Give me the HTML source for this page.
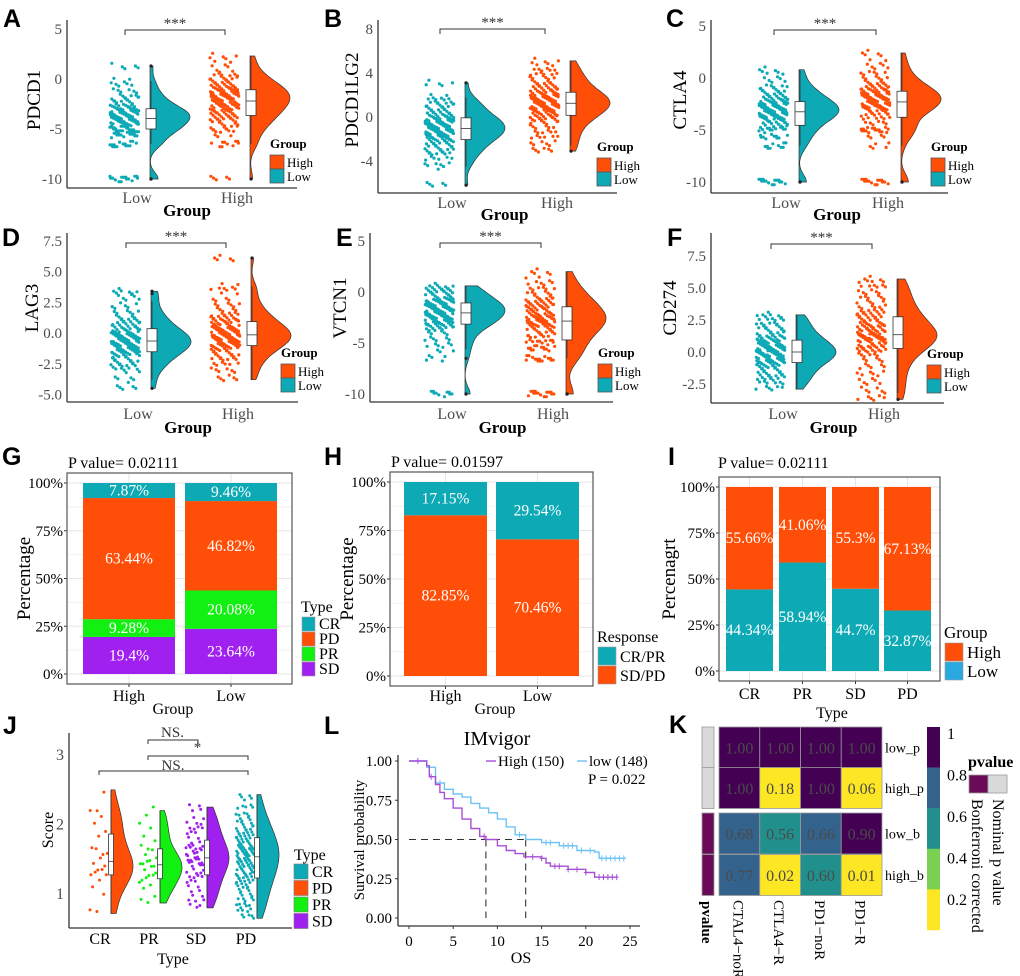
<!DOCTYPE html>
<html><head><meta charset="utf-8">
<style>
body{margin:0;background:#fff;}
svg{display:block;font-family:"Liberation Serif",serif;}
.let{font-family:"Liberation Sans",sans-serif;font-weight:bold;font-size:25px;fill:#000;}
</style></head>
<body>
<svg id="fig" width="1020" height="976" viewBox="0 0 1020 976" xmlns="http://www.w3.org/2000/svg">
<rect x="0" y="0" width="1020" height="976" fill="#fff"/>
</svg>
<script>
// ---------- DATA ----------
const rcGroups = ['Low','High'];
const pdcd1Low = [-10,-10,-10,-6.5,-6.5,-6.5,-5.6,-5.6,-5.6,-5,-5,-5,-5,-4.7,-4.5,-4.4,-4.3,-4.2,-4.1,-4,-3.9,-3.8,-3.7,-3.6,-3.5,-3.4,-3.3,-3.2,-3.1,-3,-2.9,-2.8,-2.5,-2.2,-2,-1.8,-1.4,-0.8,-0.2,1.3];
const pdcd1High = [-10,-6.5,-6.5,-5.5,-5,-4.8,-4.5,-4.2,-4,-3.8,-3.6,-3.4,-3.2,-3.1,-3,-2.8,-2.7,-2.5,-2.4,-2.3,-2.1,-2,-1.9,-1.8,-1.7,-1.5,-1.4,-1.3,-1.2,-1.1,-1,-0.8,-0.6,-0.4,-0.2,0,0.3,0.6,1.5,2.3];
const lg2Low = [-6.2,-4.5,-4,-3.5,-3.2,-3,-2.8,-2.6,-2.4,-2.2,-2,-1.9,-1.8,-1.7,-1.6,-1.5,-1.4,-1.3,-1.2,-1.1,-1,-0.9,-0.8,-0.7,-0.6,-0.5,-0.4,-0.3,-0.2,-0.1,0,0.2,0.4,0.6,0.8,1,1.2,1.5,1.8,3.1];
const lg2High = [-3.1,-2.6,-2,-1.6,-1.2,-0.8,-0.5,-0.3,-0.1,0,0.2,0.4,0.5,0.6,0.7,0.8,0.9,1,1.1,1.2,1.3,1.4,1.5,1.6,1.7,1.8,1.9,2,2.1,2.2,2.4,2.6,2.8,3,3.2,3.5,3.8,4.1,4.5,5.1];
const ctla4Low = [-10,-10,-10,-6.5,-6.5,-5.6,-5.6,-5,-5,-4.7,-4.5,-4.2,-4,-3.9,-3.8,-3.7,-3.6,-3.5,-3.4,-3.3,-3.2,-3.1,-3,-2.9,-2.8,-2.7,-2.6,-2.5,-2.4,-2.3,-2.2,-2,-1.8,-1.6,-1.4,-1.2,-1,-0.5,0.2,0.8];
const ctla4High = [-10,-10,-10,-6.5,-5.5,-5,-5,-5,-4.5,-4,-3.7,-3.4,-3.2,-3,-2.9,-2.8,-2.7,-2.6,-2.5,-2.4,-2.2,-2.1,-2,-1.9,-1.8,-1.7,-1.6,-1.5,-1.4,-1.3,-1.2,-1,-0.8,-0.6,-0.4,-0.1,0.3,0.8,1.5,2.4];
const lag3Low = [-4.5,-3.8,-3,-2.8,-2.5,-2.3,-2.1,-1.9,-1.7,-1.6,-1.5,-1.4,-1.3,-1.2,-1.1,-1,-0.9,-0.8,-0.7,-0.7,-0.6,-0.5,-0.4,-0.3,-0.2,-0.1,0,0.1,0.2,0.3,0.5,0.7,0.9,1.1,1.3,1.6,2,2.6,3.2,3.4];
const lag3High = [-3.8,-3.2,-2.7,-2.3,-2,-1.8,-1.6,-1.4,-1.2,-1.1,-1,-0.9,-0.8,-0.7,-0.6,-0.5,-0.4,-0.3,-0.2,-0.2,-0.1,0,0.1,0.2,0.3,0.4,0.5,0.6,0.8,0.9,1,1.2,1.4,1.6,1.9,2.2,2.6,3.4,3.8,6.1];
const vtcn1Low = [-10,-10,-6.5,-5.6,-5,-4.5,-4,-3.7,-3.5,-3.3,-3.1,-3,-2.9,-2.8,-2.6,-2.5,-2.4,-2.3,-2.2,-2.1,-2,-1.9,-1.8,-1.7,-1.6,-1.5,-1.4,-1.3,-1.2,-1.1,-1,-0.9,-0.8,-0.6,-0.4,-0.2,0,0.2,0.4,0.6];
const vtcn1High = [-10,-10,-10,-6.5,-6.5,-6.5,-5.6,-5.6,-5,-5,-4.6,-4.2,-4,-3.8,-3.6,-3.4,-3.2,-3.1,-3,-2.9,-2.8,-2.7,-2.6,-2.5,-2.3,-2.1,-2,-1.8,-1.6,-1.5,-1.3,-1.1,-0.9,-0.7,-0.5,-0.2,0.2,0.6,1.2,2];
const cd274Low = [-2.9,-2.5,-2.2,-2,-1.8,-1.6,-1.4,-1.2,-1,-0.9,-0.8,-0.7,-0.6,-0.5,-0.4,-0.3,-0.2,-0.1,-0.1,0,0,0.1,0.2,0.3,0.4,0.5,0.6,0.7,0.8,0.9,1,1.1,1.3,1.5,1.7,1.9,2.1,2.4,2.7,2.9];
const cd274High = [-3.7,-3.2,-2.6,-2,-1.5,-1,-0.6,-0.3,0,0.2,0.3,0.5,0.6,0.8,0.9,1,1.1,1.2,1.2,1.3,1.4,1.5,1.6,1.8,1.9,2.1,2.2,2.3,2.5,2.7,2.9,3.1,3.3,3.6,3.9,4.2,4.5,5,5.3,5.7];
const ticksA = [5,0,-5,-10];
const ticksB = [8,4,0,-4];
const ticksC = [5,0,-5,-10];
const ticksD = [7.5,5.0,2.5,0.0,-2.5,-5.0];
const ticksE = [5,0,-5,-10];
const ticksF = [7.5,5.0,2.5,0.0,-2.5];

const gGroups = ['High','Low'];
const gTypes = ['SD','PR','PD','CR'];
const gHigh = [19.4,9.28,63.44,7.87];
const gLow = [23.64,20.08,46.82,9.46];
const hGroups = ['High','Low'];
const hResp = ['SD/PD','CR/PR'];
const hHigh = [82.85,17.15];
const hLow = [70.46,29.54];
const iTypes = ['CR','PR','SD','PD'];
const iLow = [44.34,58.94,44.7,32.87];
const iHigh = [55.66,41.06,55.3,67.13];
const pctTicks = ['0%','25%','50%','75%','100%'];

const jTypes = ['CR','PR','SD','PD'];
const jCR = [0.72,0.8,1.03,1.12,1.2,1.26,1.28,1.3,1.33,1.38,1.42,1.44,1.5,1.55,1.6,1.62,1.7,1.85,1.9,2,2.08,2.15,2.25,2.5];
const jPR = [0.87,0.93,1.0,1.1,1.13,1.15,1.2,1.22,1.25,1.3,1.32,1.35,1.38,1.4,1.42,1.45,1.47,1.5,1.52,1.55,1.6,1.65,1.7,1.8,1.85,1.95,2.0,2.1,2.2];
const jSD = [0.8,0.86,0.95,1.0,1.05,1.1,1.15,1.2,1.25,1.3,1.33,1.36,1.4,1.42,1.45,1.47,1.5,1.52,1.55,1.57,1.6,1.62,1.65,1.7,1.72,1.75,1.8,1.85,1.9,1.95,2.0,2.05,2.1,2.2,2.25];
const jPD = [0.65,0.75,0.8,0.88,0.95,1.0,1.05,1.1,1.15,1.2,1.24,1.28,1.3,1.33,1.36,1.4,1.43,1.46,1.5,1.52,1.55,1.57,1.6,1.62,1.65,1.68,1.7,1.73,1.76,1.8,1.84,1.88,1.92,1.96,2.0,2.05,2.1,2.2,2.3,2.43];
const jTicks = [1,2,3];

const kmHighT = [0,2,2.3,3,3.5,4,5,6,7,8,8.7,10,11,12,13,15,15.5,16,18,20,21,23.5];
const kmHighS = [1,0.97,0.9,0.85,0.8,0.76,0.7,0.63,0.57,0.52,0.5,0.46,0.43,0.41,0.39,0.38,0.35,0.33,0.31,0.29,0.26,0.26];
const kmLowT = [0,2,3,4,5,6,7,8,9,10,11,12,13.2,15,17,19,21,21.5,24.5];
const kmLowS = [1,0.96,0.86,0.82,0.79,0.77,0.73,0.7,0.67,0.63,0.58,0.53,0.5,0.48,0.46,0.43,0.42,0.38,0.38];
const kmHighCens = [1,2.5,8.5,14,15,16.5,17,18,19,20,21.5,22,22.5,23,23.5];
const kmLowCens = [3.5,12.5,15.5,16,17.5,18,18.5,19.5,20.5,21.8,22.3,22.8,23.3,23.8,24.3];
const kmMedians = [8.7,13.2];
const kmXTicks = [0,5,10,15,20,25];
const kmYTicks = [0,0.25,0.5,0.75,1];

const kCols = ['CTAL4\u2212noR','CTLA4\u2212R','PD1\u2212noR','PD1\u2212R'];
const kRows = ['low_p','high_p','low_b','high_b'];
const kVals = [[1,1,1,1],[1,0.18,1,0.06],[0.68,0.56,0.66,0.90],[0.77,0.02,0.60,0.01]];
const kCbTicks = [1,0.8,0.6,0.4,0.2];

// ---------- HELPERS ----------
const NS='http://www.w3.org/2000/svg';
const svg=document.getElementById('fig');
function el(tag, attrs, parent){const e=document.createElementNS(NS,tag);for(const k in attrs)e.setAttribute(k,attrs[k]);(parent||svg).appendChild(e);return e;}
function tx(str, attrs, parent){const e=el('text',attrs,parent);e.textContent=str;return e;}
const TEAL='#0DAAB6', ORANGE='#FF4E08', GREEN='#12F012', PURPLE='#A020F0';
function quant(a,p){const s=[...a].sort((x,y)=>x-y);const h=(s.length-1)*p;const lo=Math.floor(h);return s[lo]+(s[Math.min(lo+1,s.length-1)]-s[lo])*(h-lo);}
function kde(vals){const n=vals.length;const m=vals.reduce((a,b)=>a+b,0)/n;const sd=Math.sqrt(vals.reduce((a,b)=>a+(b-m)*(b-m),0)/(n-1));const iqr=quant(vals,.75)-quant(vals,.25);let h=0.9*Math.min(sd,iqr>0?iqr/1.34:sd)*Math.pow(n,-0.2);if(!(h>0))h=0.1;const lo=Math.min(...vals),hi=Math.max(...vals);const out=[];for(let i=0;i<=80;i++){const v=lo+(hi-lo)*i/80;let d=0;for(const x of vals){const z=(v-x)/h;d+=Math.exp(-0.5*z*z);}out.push([v,d]);}return out;}
function letter(ch,x,y){const t=tx(ch,{x:x,y:y,class:'let'});

}

function cloud(g, vals, color, py, cx, o){
  vals.forEach((v,i)=>{for(let k=0;k<o.reps;k++){const f=((i*37+k*53+o.seed)%97)/97;const dy=(((i*13+k*29)%7)-3)*o.dy;
    const c=el('circle',{cx:(cx+o.pL+f*(o.pR-o.pL)).toFixed(1),cy:(py(v)+dy).toFixed(1),r:o.pr,fill:color},g);
    
    }});
  const dens=kde(vals);const dmax=Math.max(...dens.map(d=>d[1]));const base=cx+o.vb;
  let p='M'+base+','+py(dens[0][0]).toFixed(1);
  dens.forEach(d=>{p+=' L'+(base+d[1]/dmax*o.vw).toFixed(1)+','+py(d[0]).toFixed(1);});
  p+=' L'+base+','+py(dens[dens.length-1][0]).toFixed(1)+' Z';
  const vp=el('path',{d:p,fill:color,stroke:'#333','stroke-width':0.7},g);
  
  
  const q1=quant(vals,.25),q3=quant(vals,.75),md=quant(vals,.5),iq=q3-q1;
  const inr=vals.filter(v=>v>=q1-1.5*iq&&v<=q3+1.5*iq);const wl=Math.min(...inr),wh=Math.max(...inr);
  const bx=cx+o.bc, bw=o.bw;
  const wk=el('line',{x1:bx,x2:bx,y1:py(wl),y2:py(wh),stroke:'#333','stroke-width':0.8},g);
  
  
  const br=el('rect',{x:bx-bw/2,y:py(q3),width:bw,height:Math.max(1,py(q1)-py(q3)),fill:'#fff',stroke:'#333','stroke-width':0.8},g);
  
  
  const ml=el('line',{x1:bx-bw/2,x2:bx+bw/2,y1:py(md),y2:py(md),stroke:'#333','stroke-width':0.8},g);
  
  
  vals.filter(v=>v<q1-1.5*iq||v>q3+1.5*iq).forEach(v=>{const oc=el('circle',{cx:bx,cy:py(v),r:1.6,fill:'#222'},g);
    
    });
}

// ---------- RAINCLOUD PANELS A-F ----------
const rcPanels=[
 {L:'A',lx:3,ly:27,name:'PDCD1',data:[pdcd1Low,pdcd1High],ticks:ticksA,ax:67,top:20,bot:188,z:79,ppu:10,cx:[125,225],leg:[270,148],yl:[34,100],tickY:203,grpY:216,brY:30},
 {L:'B',lx:324,ly:27,name:'PDCD1LG2',data:[lg2Low,lg2High],ticks:ticksB,ax:378,top:20,bot:193,z:117,ppu:11,cx:[440,545],leg:[597,151],yl:[352,100],tickY:208,grpY:220,brY:29},
 {L:'C',lx:666,ly:27,name:'CTLA4',data:[ctla4Low,ctla4High],ticks:ticksC,ax:711,top:20,bot:193,z:78,ppu:10.4,cx:[774,876],leg:[931,151],yl:[680,100],tickY:208,grpY:220,brY:30},
 {L:'D',lx:2,ly:246,name:'LAG3',data:[lag3Low,lag3High],ticks:ticksD,ax:67,top:233,bot:402,z:333,ppu:12.3,cx:[126,226],leg:[281,357],yl:[32,308],tickY:419,grpY:433,brY:243},
 {L:'E',lx:336,ly:246,name:'VTCN1',data:[vtcn1Low,vtcn1High],ticks:ticksE,ax:370,top:233,bot:402,z:292,ppu:10.2,cx:[440,541],leg:[598,357],yl:[340,308],tickY:419,grpY:433,brY:243},
 {L:'F',lx:667,ly:246,name:'CD274',data:[cd274Low,cd274High],ticks:ticksF,ax:711,top:233,bot:403,z:352,ppu:12.8,cx:[771,872],leg:[927,358],yl:[670,308],tickY:419,grpY:433,brY:244}
];
rcPanels.forEach((P,pi)=>{
  const g=el('g',{});
  
  
  letter(P.L,P.lx,P.ly);
  const py=v=>P.z-v*P.ppu;
  const right=P.cx[1]+72;
  const ya=el('line',{x1:P.ax,x2:P.ax,y1:P.top,y2:P.bot,stroke:'#333','stroke-width':1.3},g);
  
  
  const xa=el('line',{x1:P.ax,x2:right,y1:P.bot,y2:P.bot,stroke:'#333','stroke-width':1.3},g);
  
  
  P.ticks.forEach(t=>{
    const s=(P.ticks.some(v=>v%1!==0))?t.toFixed(1):String(t);
    const tl=tx(s,{x:P.ax-5,y:py(t)+5,'text-anchor':'end','font-size':15,fill:'#4d4d4d'},g);
    
    
  });
  const yt=tx(P.name,{x:0,y:0,transform:`translate(${P.yl[0]+6},${P.yl[1]}) rotate(-90)`,'text-anchor':'middle','font-size':19,fill:'#000'},g);
  
  
  rcGroups.forEach((gn,gi)=>{
    const xl=tx(gn,{x:P.cx[gi]+12,y:P.tickY,'text-anchor':'middle','font-size':16,fill:'#4d4d4d'},g);
    
    
    cloud(g,P.data[gi],gi===0?TEAL:ORANGE,py,P.cx[gi],{reps:5,seed:pi*7+gi*3,pL:-15,pR:14,dy:0.9,pr:1.6,vb:25,vw:40,bc:26,bw:10});
  });
  const gt=tx('Group',{x:(P.cx[0]+P.cx[1])/2+12,y:P.grpY,'text-anchor':'middle','font-size':17,'font-weight':'bold',fill:'#000'},g);
  
  
  const bk=el('path',{d:`M${P.cx[0]},${P.brY+5} L${P.cx[0]},${P.brY} L${P.cx[1]},${P.brY} L${P.cx[1]},${P.brY+5}`,fill:'none',stroke:'#333','stroke-width':1},g);
  
  
  const st=tx('***',{x:(P.cx[0]+P.cx[1])/2,y:P.brY-2,'text-anchor':'middle','font-size':15,fill:'#333'},g);
  
  
  const lg=el('g',{},g);
  
  
  const lt=tx('Group',{x:P.leg[0],y:P.leg[1],'font-size':13,'font-weight':'bold'},lg);
  
  
  ['High','Low'].forEach((n,i)=>{
    const r=el('rect',{x:P.leg[0],y:P.leg[1]+7+i*14,width:14,height:14,fill:i?TEAL:ORANGE,stroke:'#555','stroke-width':0.8},lg);
    
    
    const t=tx(n,{x:P.leg[0]+17,y:P.leg[1]+19+i*14,'font-size':13},lg);
    
    
  });
});

// ---------- STACKED BAR PANELS G,H,I ----------
function barPanel(B){
  const g=el('g',{});
  
  
  const py=v=>B.y0-(B.y0-B.y100)*v/100;
  const bg=el('rect',{x:B.px0,y:B.py0,width:B.px1-B.px0,height:B.py1-B.py0,fill:'#fff'},g);
  
  
  for(let v=12.5;v<100;v+=25){const l=el('line',{x1:B.px0,x2:B.px1,y1:py(v),y2:py(v),stroke:'#f2f2f2','stroke-width':1},g);
    
    }
  pctTicks.forEach((t,i)=>{const v=i*25;
    const l=el('line',{x1:B.px0,x2:B.px1,y1:py(v),y2:py(v),stroke:'#e6e6e6','stroke-width':1.1},g);
    
    
    const tk=el('line',{x1:B.px0-3,x2:B.px0,y1:py(v),y2:py(v),stroke:'#333'},g);
    
    
    const tl=tx(t,{x:B.px0-4,y:py(v)+5,'text-anchor':'end','font-size':15},g);
    
    });
  B.cats.forEach((c,ci)=>{
    const cx=B.centers[ci];
    const vl=el('line',{x1:cx,x2:cx,y1:B.py0,y2:B.py1,stroke:'#e6e6e6','stroke-width':1.1},g);
    
    
    let cum=0;
    B.series.forEach((s,si)=>{const v=s.vals[ci];
      const r=el('rect',{x:cx-B.bw/2,y:py(cum+v),width:B.bw,height:py(cum)-py(cum+v),fill:s.color},g);
      
      
      const lab=tx(v+'%',{x:cx,y:py(cum+v/2)+5,'text-anchor':'middle','font-size':15.5,fill:'#fff'},g);
      
      
      cum+=v;});
    const xl=tx(c,{x:cx,y:B.xlabY,'text-anchor':'middle','font-size':16},g);
    
    
    const xt=el('line',{x1:cx,x2:cx,y1:B.py1,y2:B.py1+3,stroke:'#333'},g);
    
    
  });
  const fr=el('rect',{x:B.px0,y:B.py0,width:B.px1-B.px0,height:B.py1-B.py0,fill:'none',stroke:'#555','stroke-width':1.2},g);
  
  
  const pv=tx(B.ptxt,{x:B.ptx,y:B.pty,'font-size':16},g);
  
  
  const xtt=tx(B.xtitle,{x:B.xtx,y:B.xty,'text-anchor':'middle','font-size':16},g);
  
  
  const ytt=tx(B.ytitle,{x:0,y:0,transform:`translate(${B.ytx},${(B.py0+B.py1)/2}) rotate(-90)`,'text-anchor':'middle','font-size':19},g);
  
  
  const lt=tx(B.legTitle,{x:B.lgx,y:B.lgy,'font-size':B.lfs},g);
  
  
  B.legend.forEach((e,i)=>{
    const r=el('rect',{x:B.lgx+1,y:B.lgy+5+i*B.lh,width:B.lw,height:B.lh-1,fill:e[1],stroke:'#999','stroke-width':0.6},g);
    
    
    const t=tx(e[0],{x:B.lgx+B.lw+5,y:B.lgy+5+i*B.lh+B.lh*0.8,'font-size':B.lfs},g);
    
    
  });
}
letter('G',2,465);
barPanel({name:'panel-g-stacked-bar',px0:67,px1:292,py0:473,py1:684,y0:674,y100:483,cats:gGroups,centers:[129,231],bw:92,
  series:[{key:'SD',color:PURPLE,vals:[gHigh[0],gLow[0]]},{key:'PR',color:GREEN,vals:[gHigh[1],gLow[1]]},{key:'PD',color:ORANGE,vals:[gHigh[2],gLow[2]]},{key:'CR',color:TEAL,vals:[gHigh[3],gLow[3]]}],
  xlabY:701,ptxt:'P value= 0.02111',ptx:68,pty:468,xtitle:'Group',xtx:173,xty:714,ytitle:'Percentage',ytx:30,
  legTitle:'Type',lgx:301,lgy:612,lw:13,lh:15,lfs:16,legend:[['CR',TEAL],['PD',ORANGE],['PR',GREEN],['SD',PURPLE]]});
letter('H',324,465);
barPanel({name:'panel-h-stacked-bar',px0:390,px1:593,py0:472,py1:686,y0:676,y100:482,cats:hGroups,centers:[445.5,537.5],bw:83,
  series:[{key:'SD/PD',color:ORANGE,vals:[hHigh[0],hLow[0]]},{key:'CR/PR',color:TEAL,vals:[hHigh[1],hLow[1]]}],
  xlabY:701,ptxt:'P value= 0.01597',ptx:391,pty:467,xtitle:'Group',xtx:495,xty:714,ytitle:'Percentage',ytx:353,
  legTitle:'Response',lgx:597,lgy:642,lw:18,lh:19,lfs:16,legend:[['CR/PR',TEAL],['SD/PD',ORANGE]]});
letter('I',668,465);
barPanel({name:'panel-i-stacked-bar',px0:719,px1:940,py0:477,py1:681,y0:671,y100:487,cats:iTypes,centers:[749.5,802.5,855.5,907.5],bw:47,
  series:[{key:'Low',color:TEAL,vals:iLow},{key:'High',color:ORANGE,vals:iHigh}],
  xlabY:699,ptxt:'P value= 0.02111',ptx:718,pty:468,xtitle:'Type',xtx:832,xty:718,ytitle:'Percenagrt',ytx:675,
  legTitle:'Group',lgx:944,lgy:638,lw:18,lh:19,lfs:17,legend:[['High',ORANGE],['Low','#29A9E0']]});

// ---------- PANEL J ----------
letter('J',3,734);
(function(){
  const g=el('g',{});
  
  
  const py=v=>963.5-v*69.5;
  const cxs=[100,149,196,246];
  const sets=[jCR,jPR,jSD,jPD];const cols=[ORANGE,GREEN,PURPLE,TEAL];const reps=[1,1,2,4];
  const ya=el('line',{x1:69,x2:69,y1:733,y2:928,stroke:'#333','stroke-width':1.3},g);
  
  
  const xa=el('line',{x1:69,x2:292,y1:928,y2:928,stroke:'#333','stroke-width':1.3},g);
  
  
  jTicks.forEach(t=>{const l=tx(String(t),{x:64,y:py(t)+5,'text-anchor':'end','font-size':16,fill:'#4d4d4d'},g);
    
    });
  jTypes.forEach((t,i)=>{
    cloud(g,sets[i],cols[i],py,cxs[i],{reps:reps[i],seed:i*11,pL:-10,pR:8,dy:1.2,pr:1.5,vb:11,vw:22,bc:11,bw:5});
    const l=tx(t,{x:cxs[i],y:944,'text-anchor':'middle','font-size':16},g);
    
    
  });
  const xt=tx('Type',{x:173,y:964,'text-anchor':'middle','font-size':16},g);
  
  
  const yt=tx('Score',{x:0,y:0,transform:'translate(53,830) rotate(-90)','text-anchor':'middle','font-size':16},g);
  
  
  [[1,2,740,'NS.',738],[1,3,756,'*',758],[0,3,771,'NS.',771]].forEach(b=>{
    const p=el('path',{d:`M${cxs[b[0]]-1},${b[2]+4} L${cxs[b[0]]-1},${b[2]} L${cxs[b[1]]+2},${b[2]} L${cxs[b[1]]+2},${b[2]+4}`,fill:'none',stroke:'#333','stroke-width':1},g);
    
    
    const t=tx(b[3],{x:(cxs[b[0]]+cxs[b[1]])/2,y:b[4]-(b[3]==='*'?6:1),'text-anchor':'middle','font-size':15,fill:'#333'},g);
    
    
  });
  const lt=tx('Type',{x:294,y:860,'font-size':16},g);
  
  
  [['CR',TEAL],['PD',ORANGE],['PR',GREEN],['SD',PURPLE]].forEach((e,i)=>{
    const r=el('rect',{x:294,y:864+i*16.5,width:14,height:15,fill:e[1],stroke:'#777','stroke-width':0.6},g);
    
    
    const t=tx(e[0],{x:312,y:877+i*16.5,'font-size':16},g);
    
    
  });
})();

// ---------- PANEL L (KM) ----------
letter('L',324,734);
(function(){
  const g=el('g',{});
  
  
  const X=t=>409+t*8.84, Y=s=>918-s*157;
  const ya=el('line',{x1:398,x2:398,y1:755,y2:926,stroke:'#333','stroke-width':1.3},g);
  
  
  const xa=el('line',{x1:398,x2:640,y1:926,y2:926,stroke:'#333','stroke-width':1.3},g);
  
  
  kmYTicks.forEach(t=>{const l=tx(t.toFixed(2),{x:392,y:Y(t)+5,'text-anchor':'end','font-size':15},g);
    
    
    const k=el('line',{x1:395,x2:398,y1:Y(t),y2:Y(t),stroke:'#333'},g);
    
    });
  kmXTicks.forEach(t=>{const l=tx(String(t),{x:X(t),y:946,'text-anchor':'middle','font-size':15},g);
    
    
    const k=el('line',{x1:X(t),x2:X(t),y1:926,y2:929,stroke:'#333'},g);
    
    });
  function sAt(T,S,t){let s=S[0];for(let i=0;i<T.length;i++){if(T[i]<=t)s=S[i];}return s;}
  function curve(T,S,C,color,nm){
    let d='M'+X(T[0]).toFixed(1)+','+Y(S[0]).toFixed(1);
    for(let i=1;i<T.length;i++){d+=' H'+X(T[i]).toFixed(1)+' V'+Y(S[i]).toFixed(1);}
    const p=el('path',{d:d,fill:'none',stroke:color,'stroke-width':1.4},g);
    
    
    C.forEach(t=>{const yy=Y(sAt(T,S,t));const c=el('path',{d:`M${X(t)},${yy-3} V${yy+3} M${X(t)-2},${yy} H${X(t)+2}`,stroke:color,'stroke-width':1},g);
      
      });
  }
  const dsh=el('path',{d:`M${X(0)},${Y(0.5)} H${X(kmMedians[1])} M${X(kmMedians[0])},${Y(0.5)} V${Y(0)} M${X(kmMedians[1])},${Y(0.5)} V${Y(0)}`,fill:'none',stroke:'#333','stroke-width':1.1,'stroke-dasharray':'7,5'},g);
  
  
  curve(kmLowT,kmLowS,kmLowCens,'#6EC3F4','km-curve-low');
  curve(kmHighT,kmHighS,kmHighCens,'#A94FD6','km-curve-high');
  const ti=tx('IMvigor',{x:497,y:745,'text-anchor':'middle','font-size':20},g);
  
  
  const l1=el('line',{x1:486,x2:496,y1:761,y2:761,stroke:'#A94FD6','stroke-width':1.4},g);
  
  
  const t1=tx('High (150)',{x:498,y:766,'font-size':15},g);
  
  
  const l2=el('line',{x1:577,x2:587,y1:761,y2:761,stroke:'#6EC3F4','stroke-width':1.4},g);
  
  
  const t2=tx('low (148)',{x:589,y:766,'font-size':15},g);
  
  
  const pv=tx('P = 0.022',{x:588,y:784,'font-size':15},g);
  
  
  const xt=tx('OS',{x:521,y:963,'text-anchor':'middle','font-size':16},g);
  
  
  const yt=tx('Survival probability',{x:0,y:0,transform:'translate(364,840) rotate(-90)','text-anchor':'middle','font-size':15},g);
  
  
})();

// ---------- PANEL K (heatmap) ----------
letter('K',669,733);
(function(){
  const g=el('g',{});
  
  
  const cx0=719,cw=40.75;const rowY=[727,767.5,813,854.5];const rh=41;
  const col=v=>v>0.8?'#440154':v>0.6?'#33638D':v>0.4?'#21908C':v>0.2?'#7AD151':'#FDE725';
  kRows.forEach((r,ri)=>{
    const a=el('rect',{x:702,y:rowY[ri],width:12,height:rh,fill:ri<2?'#D9D9D9':'#6B0A57',stroke:'#999','stroke-width':0.8},g);
    
    
    kCols.forEach((c,ci)=>{const v=kVals[ri][ci];
      const rc=el('rect',{x:cx0+ci*cw,y:rowY[ri],width:cw,height:rh,fill:col(v),stroke:'#999','stroke-width':0.8},g);
      
      
      const t=tx(v.toFixed(2),{x:cx0+ci*cw+cw/2,y:rowY[ri]+rh/2+6,'text-anchor':'middle','font-size':16,fill:'#4a4a4a'},g);
      
      });
    const rl=tx(r,{x:885,y:rowY[ri]+rh/2+5,'font-size':14},g);
    
    
  });
  kCols.forEach((c,ci)=>{const t=tx(c,{x:0,y:0,transform:`translate(${cx0+ci*cw+cw/2-6},900) rotate(90)`,'font-size':15},g);
    
    });
  const pa=tx('pvalue',{x:0,y:0,transform:'translate(702,901) rotate(90)','font-size':15,'font-weight':'bold'},g);
  
  
  const cbc=['#440154','#33638D','#21908C','#7AD151','#FDE725'];
  cbc.forEach((c,i)=>{const r=el('rect',{x:927,y:727+i*40.6,width:13,height:40.8,fill:c},g);
    
    });
  kCbTicks.forEach((t,i)=>{const l=tx(String(t),{x:947,y:739+i*41.5,'font-size':16},g);
    
    });
  const lt=tx('pvalue',{x:968,y:767,'font-size':16,'font-weight':'bold'},g);
  
  
  const b1=el('rect',{x:969,y:775,width:19,height:18,fill:'#6B0A57',stroke:'#999','stroke-width':0.8},g);
  
  
  const b2=el('rect',{x:988,y:775,width:19,height:18,fill:'#D9D9D9',stroke:'#999','stroke-width':0.8},g);
  
  
  const n1=tx('Nominal p value',{x:0,y:0,transform:'translate(993,799) rotate(90)','font-size':16},g);
  
  
  const n2=tx('Bonferroni corrected',{x:0,y:0,transform:'translate(972,799) rotate(90)','font-size':16},g);
  
  
})();
</script>
</body></html>
